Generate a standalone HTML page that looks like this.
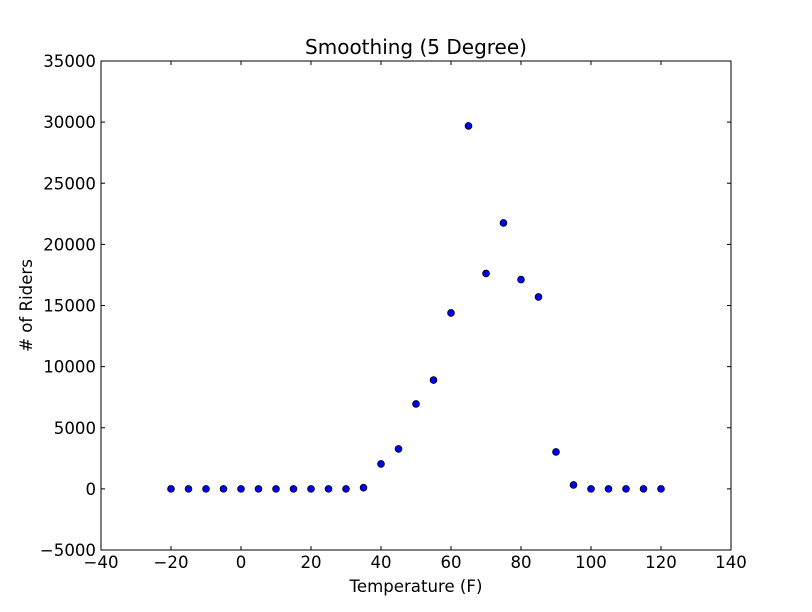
<!DOCTYPE html>
<html><head><meta charset="utf-8"><style>
body{margin:0;background:#fff;}
svg{display:block;font-family:"DejaVu Sans","Liberation Sans",sans-serif;}
</style></head><body>
<svg id="chart" width="812" height="612"></svg>
<script>
const temps=[-20,-15,-10,-5,0,5,10,15,20,25,30,35,40,45,50,55,60,65,70,75,80,85,90,95,100,105,110,115,120];
const riders=[0,0,0,0,0,0,0,0,0,0,0,100,2040,3270,6950,8900,14390,29690,17620,21750,17120,15700,3020,320,0,0,0,0,0];
const xTicks=[-40,-20,0,20,40,60,80,100,120,140];
const yTicks=[-5000,0,5000,10000,15000,20000,25000,30000,35000];
const L=101,R=731,T=61,B=550;
const xMin=-40,xMax=140,yMin=-5000,yMax=35000;
const sx=v=>L+(v-xMin)/(xMax-xMin)*(R-L);
const sy=v=>B-(v-yMin)/(yMax-yMin)*(B-T);
const fmt=v=>v<0?'\u2212'+(-v):String(v);
const svg=document.getElementById('chart');
const NS='http://www.w3.org/2000/svg';
function mk(tag,attrs,parent){const e=document.createElementNS(NS,tag);for(const k in attrs)e.setAttribute(k,attrs[k]);(parent||svg).appendChild(e);return e;}
const frame=mk('rect',{x:L,y:T,width:R-L,height:B-T,fill:'#fff',stroke:'#000','stroke-width':1});


xTicks.forEach(v=>{const x=sx(v);
mk('line',{x1:x,x2:x,y1:B,y2:B-4,stroke:'#000'});mk('line',{x1:x,x2:x,y1:T,y2:T+4,stroke:'#000'});
const t=mk('text',{x:x,y:B+18,'text-anchor':'middle','font-size':16.6});t.textContent=fmt(v);

});
yTicks.forEach(v=>{const y=sy(v);
mk('line',{x1:L,x2:L+4,y1:y,y2:y,stroke:'#000'});mk('line',{x1:R,x2:R-4,y1:y,y2:y,stroke:'#000'});
const t=mk('text',{x:L-5,y:y+6,'text-anchor':'end','font-size':16.6});t.textContent=fmt(v);

});
temps.forEach((v,i)=>{const c=mk('circle',{cx:sx(v),cy:sy(riders[i]),r:3.4,fill:'#0000ff',stroke:'#000','stroke-width':0.8});

});
const ti=mk('text',{x:(L+R)/2,y:54,'text-anchor':'middle','font-size':20});ti.textContent='Smoothing (5 Degree)';


const xl=mk('text',{x:(L+R)/2,y:592,'text-anchor':'middle','font-size':16.6});xl.textContent='Temperature (F)';


const yl=mk('text',{x:32,y:(T+B)/2,'text-anchor':'middle','font-size':16.6,transform:'rotate(-90 32 '+((T+B)/2)+')'});yl.textContent='# of Riders';


</script>
</body></html>
